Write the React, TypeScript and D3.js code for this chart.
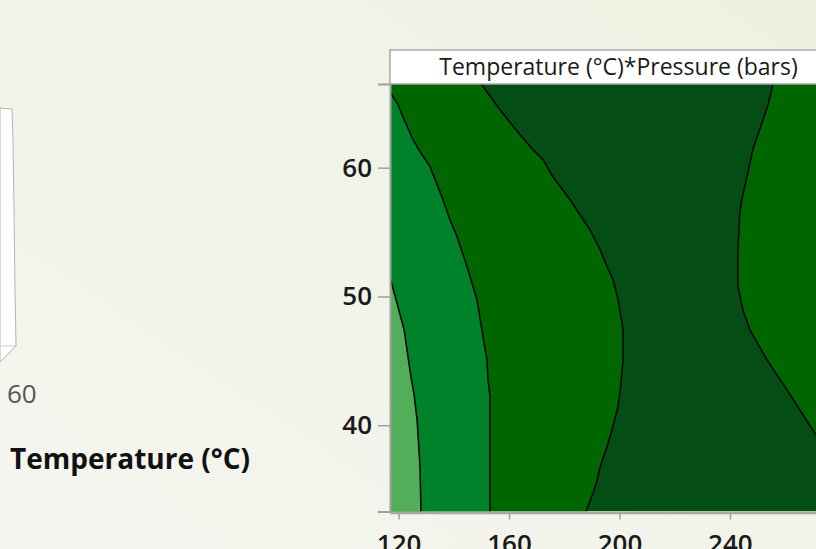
import React, { useEffect, useRef } from 'react';
import * as d3 from 'd3';

// contour boundaries, as [temperature, pressure]
const lineA: [number, number][] = [
  [116.9, 51.46], [119.1, 49.75], [122.0, 47.42], [124.2, 44.16], [125.6, 42.37],
  [126.7, 40.43], [127.4, 38.1], [127.8, 36.54], [128.1, 33.3],
];
const lineB: [number, number][] = [
  [116.9, 65.9], [119.8, 64.89], [122.35, 63.57], [125.25, 62.17], [127.8, 61.24],
  [131.4, 60.08], [136.1, 57.51], [138.6, 55.96], [141.2, 54.64], [144.8, 52.31],
  [148.4, 49.75], [150.6, 46.87], [152.0, 45.09], [152.4, 43.5], [153.1, 42.3],
  [153.1, 40.43], [153.1, 33.3],
];
const lineC: [number, number][] = [
  [149.9, 66.5], [153.1, 65.59], [156.7, 64.5], [160.4, 63.5], [164.0, 62.56],
  [168.7, 61.4], [172.3, 60.62], [175.9, 59.3], [182.1, 57.51], [189.3, 55.18],
  [193.0, 53.63], [195.5, 52.31], [197.7, 51.3], [199.5, 49.75], [201.3, 47.42],
  [201.3, 45.09], [200.2, 42.52], [199.2, 41.2], [197.3, 39.65], [195.5, 38.33],
  [193.0, 36.78], [191.9, 35.77], [190.5, 34.76], [187.9, 33.3],
];
const lineD: [number, number][] = [
  [255.6, 66.5], [253.8, 64.89], [252.0, 63.73], [248.3, 61.4], [246.2, 59.3],
  [244.3, 57.51], [243.6, 56.5], [242.9, 53.63], [242.9, 50.76], [244.7, 48.97],
  [247.2, 47.42], [253.4, 45.09], [260.6, 42.76], [265.3, 41.2], [271.1, 39.26],
  [282.4, 35.77],
];

const xTicks = [120, 160, 200, 240];
const yTicks = [40, 50, 60];
const xDomain: [number, number] = [116.9, 282.4];
const yDomain: [number, number] = [33.3, 66.5];

const colors = ['#52ae58', '#00822a', '#006700', '#044e15'];
const font = 'Open Sans, sans-serif';

export default function App() {
  const svgRef = useRef<SVGSVGElement>(null);

  useEffect(() => {
    if (!svgRef.current) return;
    const svg = d3.select(svgRef.current);
    svg.selectAll('*').remove();

    const left = 390, right = 847, top = 84, bottom = 511.5;

    const x = d3.scaleLinear().domain(xDomain).range([left, right]);
    const y = d3.scaleLinear().domain(yDomain).range([bottom, top]);

    // background
    const defs = svg.append('defs');
    const grad = defs.append('linearGradient')
      .attr('id', 'bg').attr('x1', '0').attr('y1', '1').attr('x2', '1').attr('y2', '0');
    grad.append('stop').attr('offset', '0').attr('stop-color', '#f5f6f0');
    grad.append('stop').attr('offset', '1').attr('stop-color', '#edf1e1');
    svg.append('rect').attr('width', 816).attr('height', 549).attr('fill', 'url(#bg)');

    defs.append('clipPath').attr('id', 'plotClip')
      .append('rect').attr('x', left).attr('y', top).attr('width', right - left).attr('height', bottom - top);

    // left-hand panel remnants
    svg.append('path')
      .attr('d', 'M0,108 L12,109 L13,140 L14,210 L15,290 L16,346 L0,362 Z')
      .attr('fill', '#ffffff').attr('stroke', '#b4b4b4').attr('stroke-width', 1);
    svg.append('path').attr('d', 'M0,346 L16,346').attr('stroke', '#c8c8c8').attr('stroke-width', 1);
    svg.append('text').attr('x', 7).attr('y', 403)
      .attr('font-family', font).attr('font-size', 26).attr('fill', '#555')
      .text('60');
    svg.append('text').attr('x', 10).attr('y', 469)
      .attr('font-family', font).attr('font-size', 28).attr('font-weight', 700)
      .attr('fill', '#111').text('Temperature (°C)');

    // contour regions (painted back to front)
    const g = svg.append('g').attr('clip-path', 'url(#plotClip)');
    const toPx = (pts: [number, number][]) => pts.map(([t, p]) => [x(t), y(p)] as [number, number]);
    const poly = d3.line();

    g.append('rect').attr('x', left).attr('y', top).attr('width', right - left).attr('height', bottom - top)
      .attr('fill', colors[3]);

    const [x0, x1] = xDomain;
    const [y0, y1] = yDomain;

    g.append('path').attr('fill', colors[2])
      .attr('d', poly(toPx([[x0, y1], ...lineC, [x0, y0]]))! + 'Z');
    g.append('path').attr('fill', colors[2])
      .attr('d', poly(toPx([...lineD, [x1, y1]]))! + 'Z');
    g.append('path').attr('fill', colors[1])
      .attr('d', poly(toPx([...lineB, [x0, y0]]))! + 'Z');
    g.append('path').attr('fill', colors[0])
      .attr('d', poly(toPx([...lineA, [x0, y0]]))! + 'Z');

    [lineA, lineB, lineC, lineD].forEach(l => {
      g.append('path').attr('d', poly(toPx(l))!)
        .attr('fill', 'none').attr('stroke', '#000').attr('stroke-width', 1.5);
    });

    // header
    svg.append('rect').attr('x', left).attr('y', 50).attr('width', right - left).attr('height', top - 50)
      .attr('fill', '#fff').attr('stroke', '#a8a8a8').attr('stroke-width', 1.5);
    svg.append('text').attr('x', (left + right) / 2).attr('y', 75)
      .attr('text-anchor', 'middle')
      .attr('font-family', font).attr('font-size', 23).attr('fill', '#1a1a1a')
      .text('Temperature (°C)*Pressure (bars)');

    // axes
    const yAxis = svg.append('g').attr('transform', `translate(${left},0)`)
      .call(d3.axisLeft(y).tickValues(yTicks).tickSize(12).tickPadding(6).tickFormat(d3.format('d')));
    yAxis.select('.domain').attr('stroke', '#a0a0a0').attr('stroke-width', 2);
    yAxis.selectAll('.tick line').attr('stroke', '#a0a0a0').attr('stroke-width', 1.5);
    yAxis.selectAll('.tick text')
      .attr('font-family', font).attr('font-size', 26).attr('font-weight', 600).attr('fill', '#1a1a1a');

    const xAxis = svg.append('g').attr('transform', `translate(0,${bottom + 1})`)
      .call(d3.axisBottom(x).tickValues(xTicks).tickSize(7).tickSizeOuter(0).tickFormat(d3.format('d')));
    xAxis.select('.domain').attr('stroke', '#a8a8a8').attr('stroke-width', 2.5);
    xAxis.selectAll('.tick line').attr('stroke', '#a0a0a0').attr('stroke-width', 1.5);
    xAxis.selectAll('.tick text')
      .attr('font-family', font).attr('font-size', 26).attr('font-weight', 600).attr('fill', '#1a1a1a')
      .attr('y', 40).attr('dy', 0);
  }, []);

  return (
    <div style={{ position: 'fixed', left: 0, top: 0 }}>
      <svg ref={svgRef} width={816} height={549} style={{ display: 'block' }} />
    </div>
  );
}
